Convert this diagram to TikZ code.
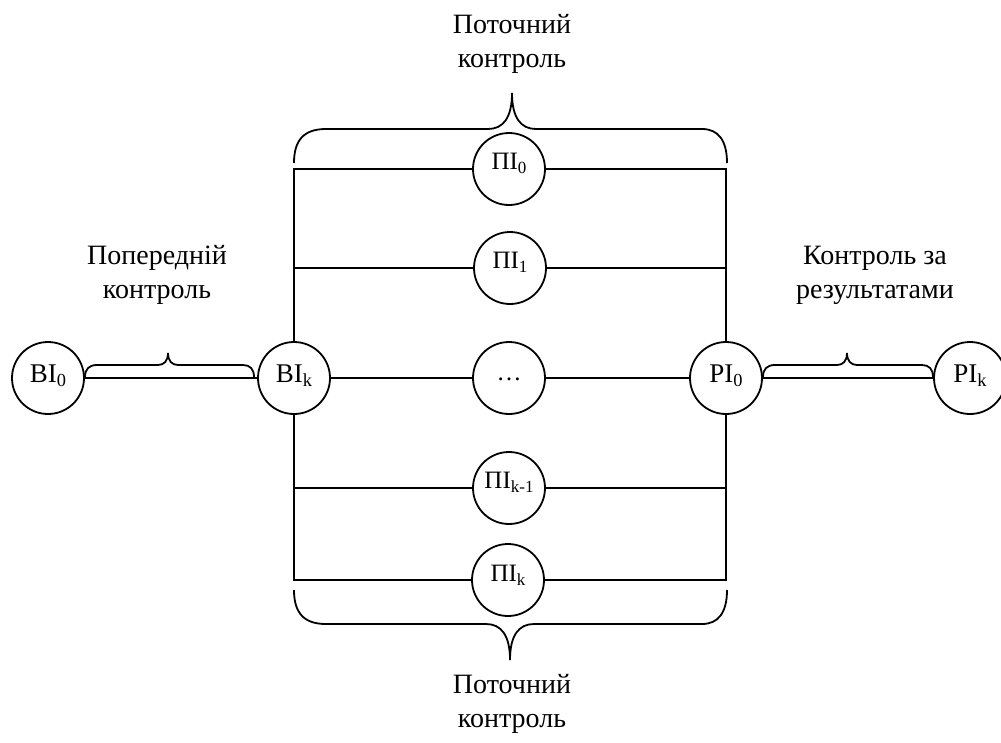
\documentclass[tikz,border=0pt]{standalone}
\usepackage{fontspec}
\setmainfont{Liberation Serif}
\newcommand\sbs[1]{\raisebox{-0.18em}{\scalebox{0.68}{#1}}}
\newcommand\onbase[2]{\raisebox{#1}[0pt][0pt]{#2}}
\begin{document}
\begin{tikzpicture}[x=1pt,y=-1pt,line width=1.8pt,
  st/.style={circle,draw,minimum size=72pt,inner sep=0pt,font=\fontsize{27}{27}\selectfont},
  pst/.style={circle,draw,minimum size=72pt,inner sep=0pt,font=\fontsize{25}{25}\selectfont},
  lbl/.style={align=center,font=\fontsize{28}{34}\selectfont,anchor=base}]
\useasboundingbox (0,0) rectangle (1001,742);
% stage nodes
\node[st] (BI0) at (48,378) {\onbase{-4pt}{BI\sbs{0}}};
\node[st] (BIk) at (294,378) {\onbase{-4pt}{BI\sbs{k}}};
\node[st] (PI0) at (726,378) {\onbase{-4pt}{PI\sbs{0}}};
\node[st] (PIk) at (970,378) {\onbase{-4pt}{PI\sbs{k}}};
\node[pst] (P0) at (509,169) {\onbase{0pt}{ПI\sbs{0}}};
\node[pst] (P1) at (510,268) {\onbase{0pt}{ПI\sbs{1}}};
\node[pst] (Pd) at (509,378) {\onbase{-2pt}{…}};
\node[pst] (P3) at (509,488) {\onbase{0pt}{ПI\sbs{k-1}}};
\node[pst] (P4) at (508,580) {\onbase{-1pt}{ПI\sbs{k}}};
% corners
\coordinate (c0l) at (294,169); \coordinate (c0r) at (726,169);
\coordinate (c1l) at (294,268); \coordinate (c1r) at (726,268);
\coordinate (c3l) at (294,488); \coordinate (c3r) at (726,488);
\coordinate (c4l) at (294,580); \coordinate (c4r) at (726,580);
% connectors
\draw (BIk.north) -- (c0l) -- (P0);
\draw (P0) -- (c0r) -- (PI0.north);
\draw (c1l) -- (P1) -- (c1r);
\draw (BIk) -- (Pd) -- (PI0);
\draw (c3l) -- (P3) -- (c3r);
\draw (BIk.south) -- (c4l) -- (P4);
\draw (P4) -- (c4r) -- (PI0.south);
\draw (BI0) -- (BIk);
\draw (PI0) -- (PIk);
% braces
\draw (294,163) .. controls (294,140) and (304,129) .. (326,129) -- (488,129)
  .. controls (503,129) and (512,118) .. (512,93)
  .. controls (512,118) and (521,129) .. (536,129) -- (702,129)
  .. controls (718,129) and (727,140) .. (727,163);
\draw (294,590) .. controls (294,613) and (304,624) .. (326,624) -- (486,624)
  .. controls (501,624) and (510,635) .. (510,660)
  .. controls (510,635) and (519,624) .. (534,624) -- (702,624)
  .. controls (718,624) and (727,613) .. (727,590);
\draw (85,377) .. controls (85,369) and (89,365) .. (97,365) -- (158,365)
  .. controls (164,365) and (168,361) .. (168,353)
  .. controls (168,361) and (172,365) .. (178,365) -- (243,365)
  .. controls (250,365) and (254,369) .. (254,377);
\draw (763,377) .. controls (763,369) and (767,365) .. (775,365) -- (837,365)
  .. controls (843,365) and (847,361) .. (847,353)
  .. controls (847,361) and (851,365) .. (857,365) -- (922,365)
  .. controls (929,365) and (933,369) .. (933,377);
% labels (anchor = baseline of the last line)
\node[lbl] (ttop) at (512,67) {Поточний\\контроль};
\node[lbl] (tbot) at (512,727) {Поточний\\контроль};
\node[lbl] (tleft) at (157,298) {Попередній\\контроль};
\node[lbl] (tright) at (875,298) {Контроль за\\результатами};
\end{tikzpicture}
\end{document}
